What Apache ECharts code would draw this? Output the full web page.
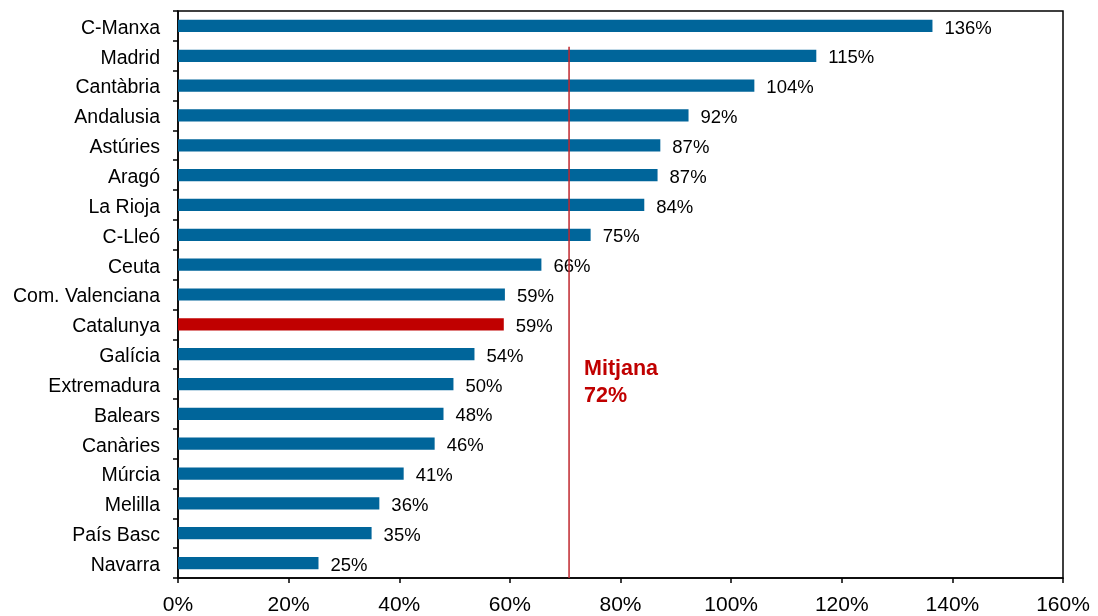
<!DOCTYPE html>
<html><head><meta charset="utf-8">
<script src="https://cdn.jsdelivr.net/npm/echarts@6/dist/echarts.min.js"></script>
<style>html,body{margin:0;padding:0;background:#fff}#c{width:1098px;height:616px}</style>
</head><body><div id="c"></div>
<script>
const categories = ['C-Manxa','Madrid','Cantàbria','Andalusia','Astúries','Aragó','La Rioja','C-Lleó','Ceuta','Com. Valenciana','Catalunya','Galícia','Extremadura','Balears','Canàries','Múrcia','Melilla','País Basc','Navarra'];
const values = [136.4,115.4,104.2,92.3,87.2,86.7,84.3,74.6,65.7,59.1,58.9,53.6,49.8,48.0,46.4,40.8,36.4,35.0,25.4];
const highlight = 'Catalunya';
const meanLinePos = 70.7;
const meanLabel = 'Mitjana\n72%';
const xTicks = [0,20,40,60,80,100,120,140,160];

const FONT = '"Liberation Sans", Arial, sans-serif';
const chart = echarts.init(document.getElementById('c'));
chart.setOption({
  animation: false,
  grid: {left: 178, right: 35, top: 11, bottom: 38, show: true, borderColor: '#000', borderWidth: 1.5, backgroundColor: 'transparent'},
  xAxis: [{
    type: 'value', min: xTicks[0], max: xTicks[xTicks.length-1], interval: 20,
    axisLine: {show: true, lineStyle: {color: '#000', width: 1.5}},
    axisTick: {show: true, length: 5, lineStyle: {color: '#000', width: 1.5}},
    splitLine: {show: false},
    axisLabel: {formatter: v => v + '%', fontFamily: FONT, fontSize: 21, color: '#000', margin: 17}
  }],
  yAxis: [{
    type: 'category', data: categories, inverse: true,
    axisLine: {show: true, lineStyle: {color: '#000', width: 1.5}},
    axisTick: {show: true, length: 5, lineStyle: {color: '#000', width: 1.5}},
    axisLabel: {formatter: v => '{a|' + v + '}', margin: 18,
      rich: {a: {fontFamily: FONT, fontSize: 19.5, color: '#000', padding: [5, 0, 0, 0]}}}
  }, {
    type: 'value', min: 0, max: categories.length, show: false
  }],
  series: [{
    type: 'bar', yAxisIndex: 0,
    data: values.map((v, i) => ({value: v, itemStyle: {color: categories[i] === highlight ? '#C00000' : '#00659A'}})),
    barCategoryGap: '59%',
    label: {show: true, position: 'right', distance: 12, offset: [0, 2.5], formatter: p => Math.round(p.value) + '%', fontFamily: FONT, fontSize: 18.5, color: '#000'}
  }, {
    type: 'line', yAxisIndex: 1, symbol: 'none',
    data: [[meanLinePos, 0], [meanLinePos, 17.8]],
    lineStyle: {color: '#C0272D', width: 1.5}
  }],
  graphic: [{
    type: 'text', left: 584, top: 356,
    style: {text: meanLabel, fill: '#C00000', font: 'bold 21.5px ' + FONT, lineHeight: 27}
  }]
});
</script></body></html>
